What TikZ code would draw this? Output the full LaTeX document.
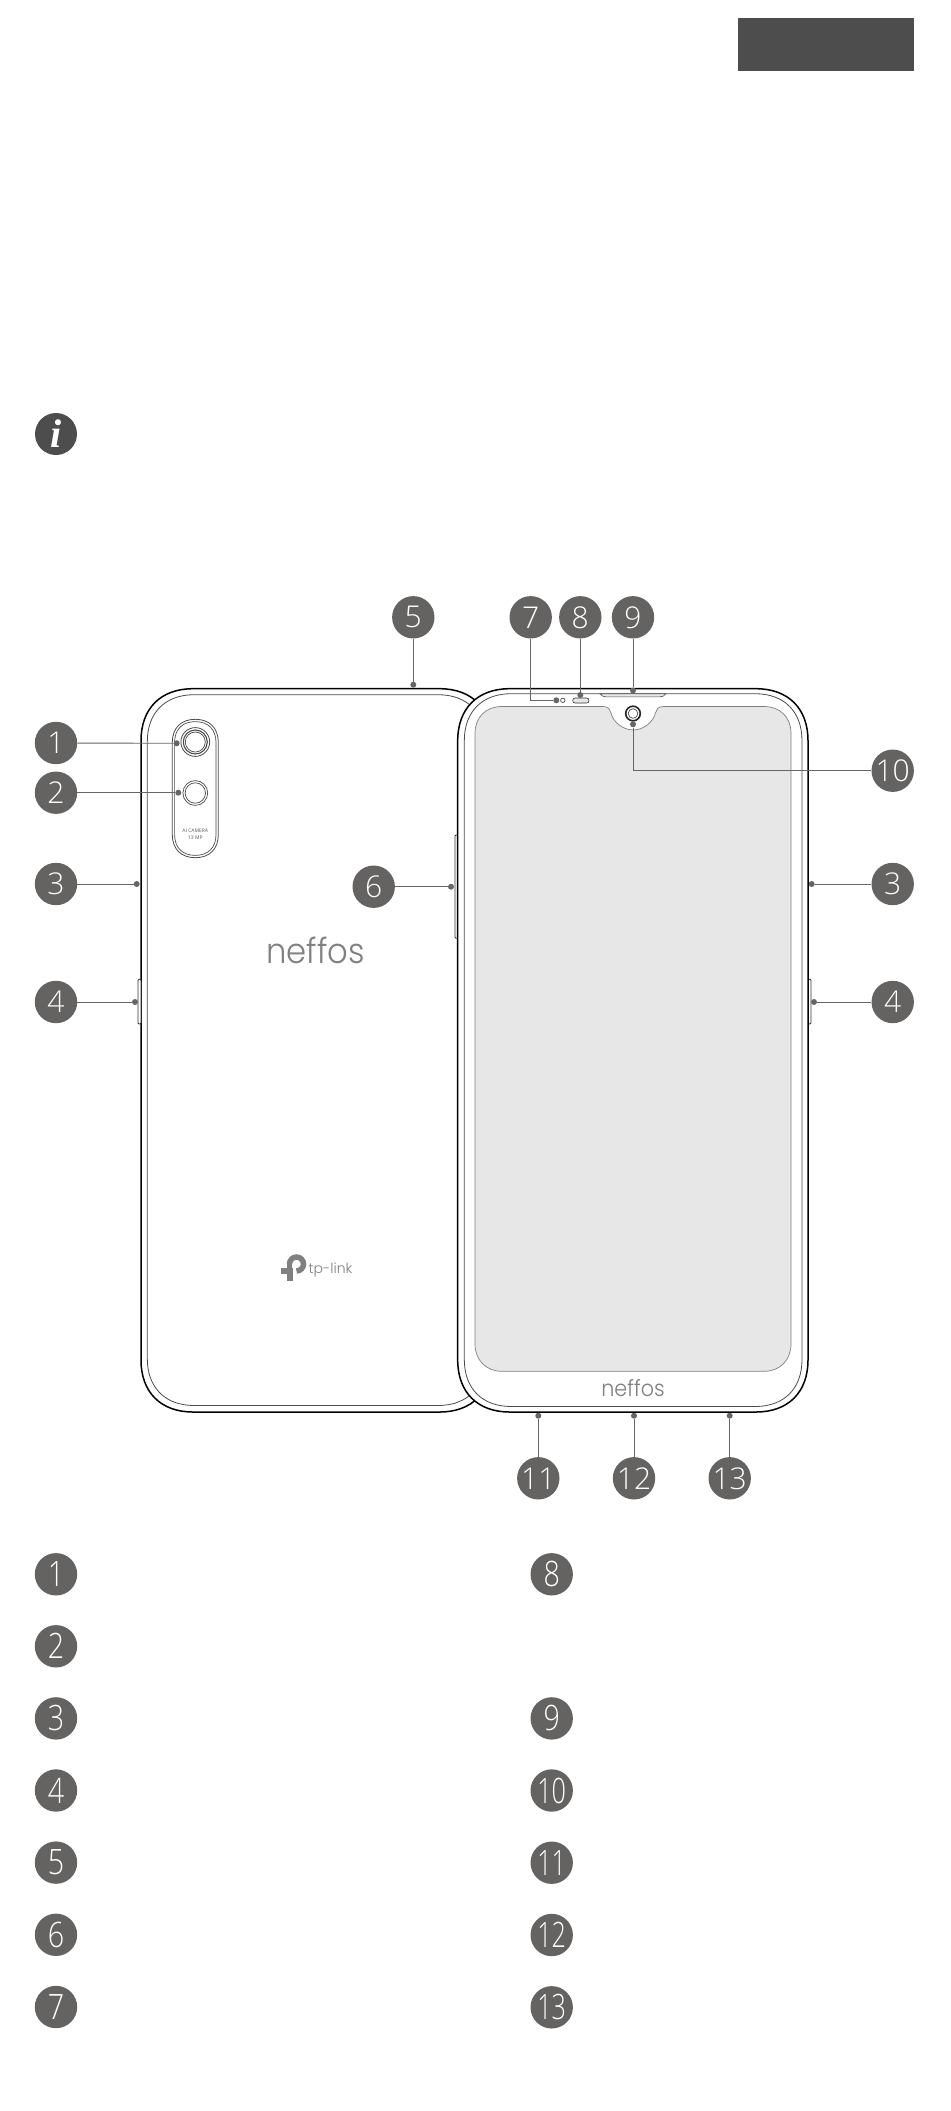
\documentclass[tikz,border=0pt]{standalone}
\usepackage{fontspec}
\setmainfont{Liberation Serif}
\newfontfamily\numfont[UprightFont={* Light}]{Open Sans}
\newfontfamily\logofont[UprightFont={* Light}]{Poppins}
\newfontfamily\smallfont{Open Sans}
\definecolor{badge}{HTML}{646362}
\definecolor{darkbox}{HTML}{4D4D4D}
\definecolor{screenfill}{HTML}{E7E7E7}
\definecolor{logogrey}{HTML}{808080}
\definecolor{linegrey}{HTML}{666666}
\newcommand{\rrpath}[6][]{%
  \pgfmathsetmacro{\rrA}{#2+#6}\pgfmathsetmacro{\rrB}{#4-#6}%
  \pgfmathsetmacro{\rrC}{#3+#6}\pgfmathsetmacro{\rrD}{#5-#6}%
  \pgfmathsetmacro{\rrk}{0.38*#6}%
  \pgfmathsetmacro{\rrAk}{#2+\rrk}\pgfmathsetmacro{\rrBk}{#4-\rrk}%
  \pgfmathsetmacro{\rrCk}{#3+\rrk}\pgfmathsetmacro{\rrDk}{#5-\rrk}%
  \path[#1] (\rrA,#3) -- (\rrB,#3) .. controls (\rrBk,#3) and (#4,\rrCk) .. (#4,\rrC)
    -- (#4,\rrD) .. controls (#4,\rrDk) and (\rrBk,#5) .. (\rrB,#5)
    -- (\rrA,#5) .. controls (\rrAk,#5) and (#2,\rrDk) .. (#2,\rrD)
    -- (#2,\rrC) .. controls (#2,\rrCk) and (\rrAk,#3) .. (\rrA,#3) -- cycle;}
\tikzset{
  x=1pt,y=-1pt,
  badgenode/.style={circle,fill=badge,text=white,inner sep=0pt,minimum size=42.4pt,font=\numfont\fontsize{30}{30}\selectfont},
  listnode/.style={badgenode,font=\numfont\fontsize{35}{35}\selectfont},
  dotnode/.style={circle,fill=linegrey,inner sep=0pt,minimum size=6pt},
  conn/.style={draw=linegrey,line width=0.9pt},
  outerline/.style={draw=black,line width=1.5pt},
  innerline/.style={draw=black!70,line width=0.8pt},
  thinline/.style={draw=black!70,line width=0.7pt},
  logotext/.style={text=logogrey,inner sep=0pt,font=\logofont\fontsize{35}{35}\selectfont},
  smalltext/.style={text=black!65,inner sep=0pt,font=\smallfont\fontsize{5}{5}\selectfont},
}
\newcommand{\nb}[1]{\scalebox{0.82}[1]{#1}}
\newcommand{\nbb}[1]{\scalebox{0.72}[1]{#1}}
\begin{document}
\begin{tikzpicture}
\useasboundingbox (0,0) rectangle (950,2111);
% top box and info badge
\fill[darkbox] (737.5,18) rectangle (914,71);
\node[circle,fill=darkbox,inner sep=0pt,minimum size=42pt,text=white,font=\rmfamily\bfseries\itshape\fontsize{40}{40}\selectfont] (info) at (56,434) {i};

% back phone
\rrpath[outerline,fill=white]{141}{688.7}{491.6}{1412}{52}
\rrpath[innerline]{147.3}{694.7}{485}{1405.5}{47}
% buttons
\fill[white,draw=black!80,line width=0.8pt,rounded corners=1pt] (138,979.3) rectangle (141,1024);
\fill[white,draw=black!80,line width=0.8pt,rounded corners=1pt] (455,835) rectangle (458,938.3);
\fill[white,draw=black!80,line width=0.8pt,rounded corners=1pt] (808,979.3) rectangle (811,1024);
% camera module
\rrpath[innerline]{172.3}{719.3}{218.3}{857.7}{23}
\rrpath[thinline]{174.6}{721.6}{216}{855.4}{20.7}
\draw[innerline] (195.3,742) circle[radius=14.4pt];
\draw[innerline,line width=1.1pt] (195.3,742) circle[radius=12pt];
\draw[thinline] (195.3,742) circle[radius=10pt];
\draw[thinline] (195.3,793) circle[radius=12.4pt];
\draw[thinline] (195.3,793) circle[radius=10.2pt];
\node[smalltext] (aicam) at (195.3,830.7) {AI CAMERA};
\node[smalltext] (mp) at (195.3,837.8) {13 MP};
% logos on back
\node[logotext] (logoback) at (315.8,950) {\scalebox{0.92}[1]{neffos}};
\fill[logogrey] (281,1267.7) rectangle (293.3,1274.3);
\fill[logogrey] (287,1274) rectangle (293.3,1280.7);
\fill[logogrey] (286.8,1262) rectangle (292.3,1268);
\draw[logogrey,line width=5.5pt] (289.5,1264) arc[start angle=180,end angle=-90,radius=7pt];
\node[text=logogrey,inner sep=0pt,font=\logofont\fontsize{14}{14}\selectfont] (tplink) at (330.5,1270) {tp-link};

% front phone
\rrpath[outerline,fill=white]{457.7}{688.7}{808}{1412}{52}
\rrpath[innerline]{464.3}{693.7}{802}{1406.5}{47}
% screen with notch
\path[fill=screenfill,draw=black!50,line width=0.7pt]
  (502,706.5) -- (603,706.5)
  .. controls (609,706.5) and (610,710) .. (611,713)
  .. controls (613,722) and (623,730) .. (633.2,730)
  .. controls (643.4,730) and (653.4,722) .. (655.4,713)
  .. controls (656.4,710) and (657.4,706.5) .. (663.4,706.5)
  -- (764,706.5) .. controls (780,706.5) and (791,717) .. (791,733.5)
  -- (791,1344) .. controls (791,1360) and (780,1371.3) .. (764,1371.3)
  -- (502,1371.3) .. controls (486,1371.3) and (475,1360) .. (475,1344)
  -- (475,733.5) .. controls (475,717) and (486,706.5) .. (502,706.5) -- cycle;
% front details
\path[fill=screenfill,draw=black!70,line width=0.6pt] (600,693.7) -- (665.8,693.7) .. controls (664,696) and (663,696.8) .. (660,696.8) -- (605.8,696.8) .. controls (603,696.8) and (602,696) .. (600,693.7) -- cycle;
\rrpath[fill=screenfill,draw=black!80,line width=0.6pt]{572.7}{698}{589}{703}{2.5}
\draw[thinline] (562.8,700.3) circle[radius=2.2pt];
\draw[black!85,line width=1.6pt] (633,713.5) circle[radius=7.3pt];
\draw[thinline] (633,713.5) circle[radius=4.8pt];
\node[logotext,font=\logofont\fontsize{22.5}{22.5}\selectfont] (logofront) at (633,1388) {\scalebox{0.92}[1]{neffos}};

% callout badges
\node[badgenode] (c1) at (56,743) {1};
\node[badgenode] (c2) at (56,792.7) {2};
\node[badgenode] (c3) at (56,884) {3};
\node[badgenode] (c4) at (56,1002) {4};
\node[badgenode] (c5) at (413.3,617.3) {5};
\node[badgenode] (c6) at (373.7,886.7) {6};
\node[badgenode] (c7) at (530.7,617.3) {7};
\node[badgenode] (c8) at (580.3,617.3) {8};
\node[badgenode] (c9) at (633,617.3) {9};
\node[badgenode] (c10) at (892.7,770.7) {10};
\node[badgenode] (c3r) at (892.7,884) {3};
\node[badgenode] (c4r) at (892.7,1002) {4};
\node[badgenode] (c11) at (538.3,1478.3) {11};
\node[badgenode] (c12) at (634,1478.3) {12};
\node[badgenode] (c13) at (729.7,1478.3) {13};
% callout dots
\node[dotnode] (d1) at (176.7,743.3) {};
\node[dotnode] (d2) at (178.3,792.7) {};
\node[dotnode] (d3) at (136.7,884) {};
\node[dotnode] (d4) at (135,1002) {};
\node[dotnode] (d5) at (413.3,684.7) {};
\node[dotnode] (d6) at (451,886.7) {};
\node[dotnode] (d7) at (556.3,700.3) {};
\node[dotnode] (d8) at (580.3,695) {};
\node[dotnode] (d9) at (633,690.5) {};
\node[dotnode] (d10) at (633,724.3) {};
\node[dotnode] (d3r) at (811.7,884) {};
\node[dotnode] (d4r) at (814,1002) {};
\node[dotnode] (d11) at (538.3,1415.7) {};
\node[dotnode] (d12) at (634,1415.7) {};
\node[dotnode] (d13) at (729.7,1415.7) {};
% connectors
\foreach \a in {1,2,3,4,5,6,8,9,11,12,13} {\draw[conn] (c\a) -- (d\a);}
\draw[conn] (c3r) -- (d3r);
\draw[conn] (c4r) -- (d4r);
\draw[conn] (c7) |- (d7);
\draw[conn] (c10) -| (d10);

% legend
\node[listnode] (l1) at (56,1574.3) {\nb{1}};
\node[listnode] (l2) at (56,1646.3) {\nb{2}};
\node[listnode] (l3) at (56,1718.4) {\nb{3}};
\node[listnode] (l4) at (56,1790.5) {\nb{4}};
\node[listnode] (l5) at (56,1862.6) {\nb{5}};
\node[listnode] (l6) at (56,1934.8) {\nb{6}};
\node[listnode] (l7) at (56,2007) {\nb{7}};
\node[listnode] (l8) at (551.7,1574.3) {\nb{8}};
\node[listnode] (l9) at (551.7,1718.4) {\nb{9}};
\node[listnode] (l10) at (551.7,1790.5) {\nbb{10}};
\node[listnode] (l11) at (551.7,1862.7) {\nbb{11}};
\node[listnode] (l12) at (551.7,1935) {\nbb{12}};
\node[listnode] (l13) at (551.7,2007.3) {\nbb{13}};
\end{tikzpicture}
\end{document}
